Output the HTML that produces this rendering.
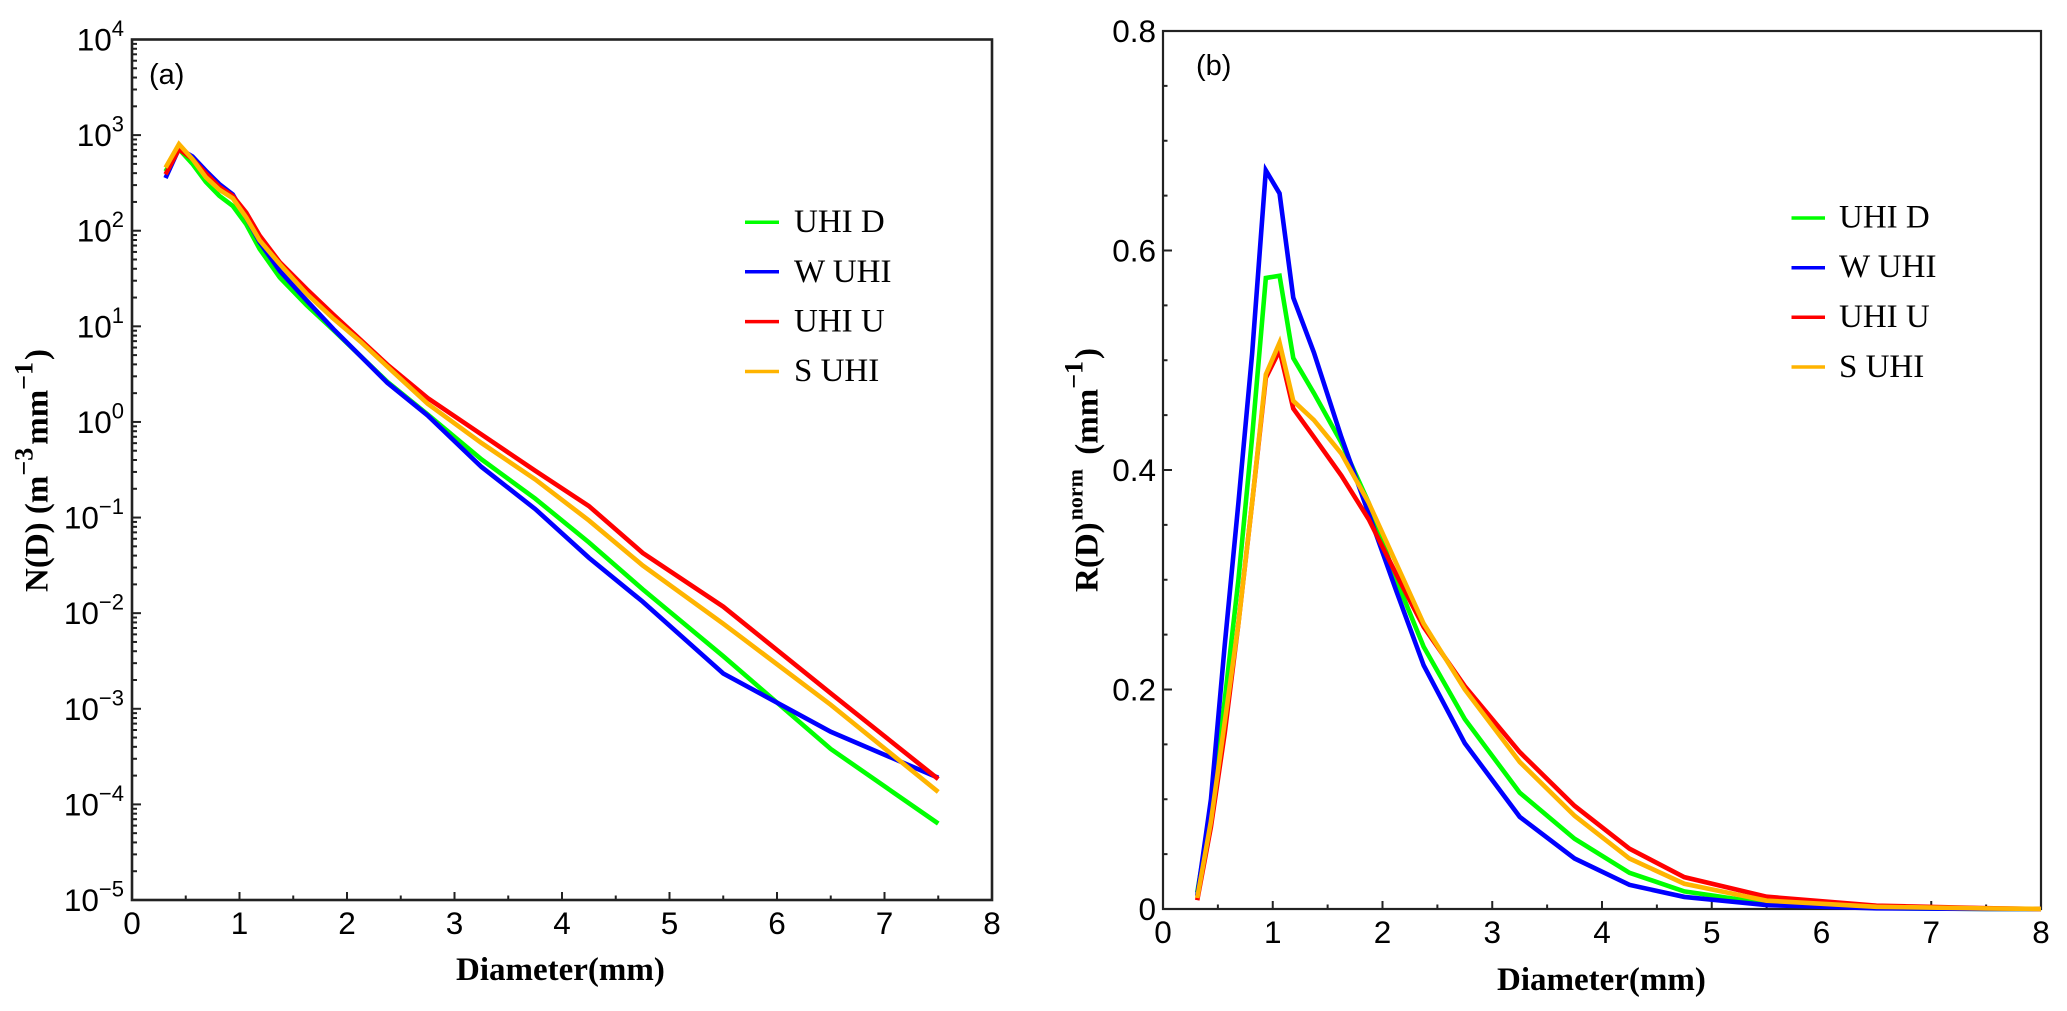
<!DOCTYPE html>
<html>
<head>
<meta charset="utf-8">
<title>Raindrop size distribution charts</title>
<style>
html,body{margin:0;padding:0;background:#fff;}
svg{display:block;}
text{fill:#000;}
.tick-label{font-family:"Liberation Sans",sans-serif;font-size:31.5px;}
.axis-title{font-family:"Liberation Serif",serif;font-size:33px;font-weight:bold;}
.legend-label{font-family:"Liberation Serif",serif;font-size:33px;}
.panel-label{font-family:"Liberation Sans",sans-serif;font-size:29px;}
</style>
</head>
<body>
<svg id="figure" width="2067" height="1011" viewBox="0 0 2067 1011" xmlns="http://www.w3.org/2000/svg">
  <rect x="0" y="0" width="2067" height="1011" fill="#fff"/>
  <g id="panel-a"></g>
  <g id="panel-b"></g>

  <text class="panel-label" x="149" y="84">(a)</text>
  <text class="panel-label" x="1196" y="75">(b)</text>

  <text class="axis-title" x="456" y="980">Diameter(mm)</text>
  <text class="axis-title" x="1497" y="990">Diameter(mm)</text>

  <text class="axis-title" transform="translate(47.5,592) rotate(-90)">N(D) (m<tspan font-size="26" dy="-15">−3</tspan><tspan dx="3" dy="15">mm</tspan><tspan font-size="26" dy="-15">−1</tspan><tspan dx="2" dy="15">)</tspan></text>
  <text class="axis-title" transform="translate(1097.5,592) rotate(-90)">R(D)<tspan font-size="22" dx="2" dy="-15">norm</tspan><tspan dx="6" dy="15"> (mm</tspan><tspan font-size="26" dy="-15">−1</tspan><tspan dx="2" dy="15">)</tspan></text>

  <g>
    <line x1="745" x2="779" y1="222.3" y2="222.3" stroke="#00ff00" stroke-width="3.5"/>
    <text class="legend-label" x="794" y="232">UHI D</text>
    <line x1="745" x2="779" y1="271.8" y2="271.8" stroke="#0000ff" stroke-width="3.5"/>
    <text class="legend-label" x="794" y="282">W UHI</text>
    <line x1="745" x2="779" y1="321.6" y2="321.6" stroke="#ff0000" stroke-width="3.5"/>
    <text class="legend-label" x="794" y="331.5">UHI U</text>
    <line x1="745" x2="779" y1="371.5" y2="371.5" stroke="#ffb400" stroke-width="3.5"/>
    <text class="legend-label" x="794" y="381">S UHI</text>
  </g>

  <g>
    <line x1="1791.5" x2="1825" y1="218" y2="218" stroke="#00ff00" stroke-width="3.5"/>
    <text class="legend-label" x="1839" y="227.5">UHI D</text>
    <line x1="1791.5" x2="1825" y1="267.7" y2="267.7" stroke="#0000ff" stroke-width="3.5"/>
    <text class="legend-label" x="1839" y="277">W UHI</text>
    <line x1="1791.5" x2="1825" y1="317.3" y2="317.3" stroke="#ff0000" stroke-width="3.5"/>
    <text class="legend-label" x="1839" y="327">UHI U</text>
    <line x1="1791.5" x2="1825" y1="367" y2="367" stroke="#ffb400" stroke-width="3.5"/>
    <text class="legend-label" x="1839" y="377">S UHI</text>
  </g>
</svg>

<script>
// Panel (a) data: N(D), m^-3 mm^-1
const diametersA = [0.312,0.437,0.562,0.687,0.812,0.937,1.062,1.187,1.375,1.625,1.875,2.125,2.375,2.75,3.25,3.75,4.25,4.75,5.5,6.5,7.5];
const nUhiD = [417,714,501,324,232,182,117,64.6,32.4,16.6,9.12,4.9,2.63,1.2,0.407,0.158,0.055,0.0178,0.00355,0.00038,0.000063];
const nWUhi = [355,724,598,424,308,240,138,75.9,38,18.6,9.33,4.9,2.57,1.17,0.339,0.123,0.038,0.0132,0.00234,0.000575,0.00019];
const nUhiU = [389,714,562,398,288,232,155,89,46.8,24.5,13.2,7.24,3.98,1.78,0.741,0.309,0.132,0.0427,0.0117,0.00145,0.000184];
const nSUhi = [457,805,562,363,269,219,138,79.4,44.7,21.9,12,6.92,3.8,1.55,0.603,0.251,0.0933,0.0316,0.00776,0.0011,0.000135];
const xTicksA = [0,1,2,3,4,5,6,7,8];
const yExponentsA = [-5,-4,-3,-2,-1,0,1,2,3,4];

// Panel (b) data: R(D) norm, mm^-1
const diametersB = [0.312,0.437,0.562,0.687,0.812,0.937,1.062,1.187,1.375,1.625,1.875,2.125,2.375,2.75,3.25,3.75,4.25,4.75,5.5,6.5,7.5,8];
const rUhiD = [0.015,0.09,0.19,0.3,0.43,0.575,0.577,0.502,0.47,0.425,0.37,0.3,0.239,0.173,0.106,0.064,0.033,0.016,0.005,0.0008,0.0001,0];
const rWUhi = [0.012,0.1,0.24,0.37,0.506,0.673,0.652,0.557,0.507,0.43,0.36,0.29,0.222,0.151,0.084,0.046,0.022,0.011,0.0036,0.0006,0.0001,0];
const rUhiU = [0.008,0.075,0.16,0.26,0.37,0.484,0.509,0.456,0.43,0.395,0.355,0.305,0.257,0.203,0.143,0.094,0.055,0.029,0.0112,0.003,0.0008,0];
const rSUhi = [0.01,0.08,0.17,0.26,0.37,0.487,0.516,0.463,0.4455,0.415,0.37,0.315,0.26,0.2,0.134,0.085,0.046,0.023,0.0076,0.002,0.0005,0.0001];
const xTicksB = [0,1,2,3,4,5,6,7,8];
const yTicksB = [0,0.2,0.4,0.6,0.8];
const yTickLabelsB = ["0","0.2","0.4","0.6","0.8"];

const NS = "http://www.w3.org/2000/svg";
const AXIS_COLOR = "#222";

// Panel geometry
const A = {left:132, right:992, top:39.5, bottom:900};
const B = {left:1163, right:2041, top:31, bottom:909};

const xA = d => A.left + (d / 8) * (A.right - A.left);
const yA = v => A.bottom - ((Math.log10(v) + 5) / 9) * (A.bottom - A.top);
const xB = d => B.left + (d / 8) * (B.right - B.left);
const yB = v => B.bottom - (v / 0.8) * (B.bottom - B.top);

function addLine(parent, x1, y1, x2, y2, width, name) {
  const el = document.createElementNS(NS, "line");
  el.setAttribute("x1", x1);
  el.setAttribute("y1", y1);
  el.setAttribute("x2", x2);
  el.setAttribute("y2", y2);
  el.setAttribute("stroke", AXIS_COLOR);
  el.setAttribute("stroke-width", width);
  
  
  parent.appendChild(el);
  return el;
}

function addLabel(parent, x, y, content, anchor, name) {
  const el = document.createElementNS(NS, "text");
  el.setAttribute("x", x);
  el.setAttribute("y", y);
  el.setAttribute("class", "tick-label");
  el.setAttribute("text-anchor", anchor);
  el.textContent = content;
  
  
  parent.appendChild(el);
  return el;
}

function addFrame(parent, box, width, name) {
  const el = document.createElementNS(NS, "rect");
  el.setAttribute("x", box.left);
  el.setAttribute("y", box.top);
  el.setAttribute("width", box.right - box.left);
  el.setAttribute("height", box.bottom - box.top);
  el.setAttribute("fill", "none");
  el.setAttribute("stroke", AXIS_COLOR);
  el.setAttribute("stroke-width", width);
  
  
  parent.appendChild(el);
}

function addSeries(parent, xs, ys, xFn, yFn, color, name) {
  const el = document.createElementNS(NS, "polyline");
  el.setAttribute("points", xs.map((d, i) => xFn(d).toFixed(2) + "," + yFn(ys[i]).toFixed(2)).join(" "));
  el.setAttribute("fill", "none");
  el.setAttribute("stroke", color);
  el.setAttribute("stroke-width", "4.6");
  el.setAttribute("stroke-linejoin", "miter");
  
  
  parent.appendChild(el);
}

// ---------- Panel (a) ----------
const panelA = document.getElementById("panel-a");
addFrame(panelA, A, 2.6, "panel-a-plot-frame");

xTicksA.forEach(t => {
  addLine(panelA, xA(t), A.bottom, xA(t), A.bottom - 8, 2, "panel-a-x-tick-" + t);
  addLabel(panelA, xA(t), 934, String(t), "middle", "panel-a-x-tick-label-" + t);
  if (t < 8) {
    addLine(panelA, xA(t + 0.5), A.bottom, xA(t + 0.5), A.bottom - 4.5, 2, "panel-a-x-minor-tick-" + t);
  }
});

yExponentsA.forEach(e => {
  const y = yA(Math.pow(10, e));
  addLine(panelA, A.left, y, A.left + 9, y, 2, "panel-a-y-tick-" + e);
  if (e < 4) {
    for (let m = 2; m < 10; m++) {
      const my = yA(m * Math.pow(10, e));
      addLine(panelA, A.left, my, A.left + 5, my, 2, "panel-a-y-minor-tick");
    }
  }
  const label = addLabel(panelA, 124, y + 11, "10", "end", "panel-a-y-tick-label-" + e);
  const sup = document.createElementNS(NS, "tspan");
  sup.setAttribute("font-size", "22");
  sup.setAttribute("dy", "-14.5");
  sup.textContent = e < 0 ? "−" + Math.abs(e) : String(e);
  label.appendChild(sup);
});

addSeries(panelA, diametersA, nUhiD, xA, yA, "#00ff00", "panel-a-series-uhi-d");
addSeries(panelA, diametersA, nWUhi, xA, yA, "#0000ff", "panel-a-series-w-uhi");
addSeries(panelA, diametersA, nUhiU, xA, yA, "#ff0000", "panel-a-series-uhi-u");
addSeries(panelA, diametersA, nSUhi, xA, yA, "#ffb400", "panel-a-series-s-uhi");

// ---------- Panel (b) ----------
const panelB = document.getElementById("panel-b");
addFrame(panelB, B, 2.2, "panel-b-plot-frame");

xTicksB.forEach(t => {
  addLine(panelB, xB(t), B.bottom, xB(t), B.bottom - 8, 2, "panel-b-x-tick-" + t);
  addLabel(panelB, xB(t), 943, String(t), "middle", "panel-b-x-tick-label-" + t);
  if (t < 8) {
    addLine(panelB, xB(t + 0.5), B.bottom, xB(t + 0.5), B.bottom - 4.5, 2, "panel-b-x-minor-tick-" + t);
  }
});

yTicksB.forEach((t, i) => {
  const y = yB(t);
  addLine(panelB, B.left, y, B.left + 9, y, 2, "panel-b-y-tick-" + i);
  addLabel(panelB, 1156, y + 11, yTickLabelsB[i], "end", "panel-b-y-tick-label-" + i);
  if (t < 0.8) {
    [0.05, 0.1, 0.15].forEach(step => {
      const my = yB(t + step);
      addLine(panelB, B.left, my, B.left + 4.5, my, 2, "panel-b-y-minor-tick");
    });
  }
});

addSeries(panelB, diametersB, rUhiD, xB, yB, "#00ff00", "panel-b-series-uhi-d");
addSeries(panelB, diametersB, rWUhi, xB, yB, "#0000ff", "panel-b-series-w-uhi");
addSeries(panelB, diametersB, rUhiU, xB, yB, "#ff0000", "panel-b-series-uhi-u");
addSeries(panelB, diametersB, rSUhi, xB, yB, "#ffb400", "panel-b-series-s-uhi");
</script>
</body>
</html>
